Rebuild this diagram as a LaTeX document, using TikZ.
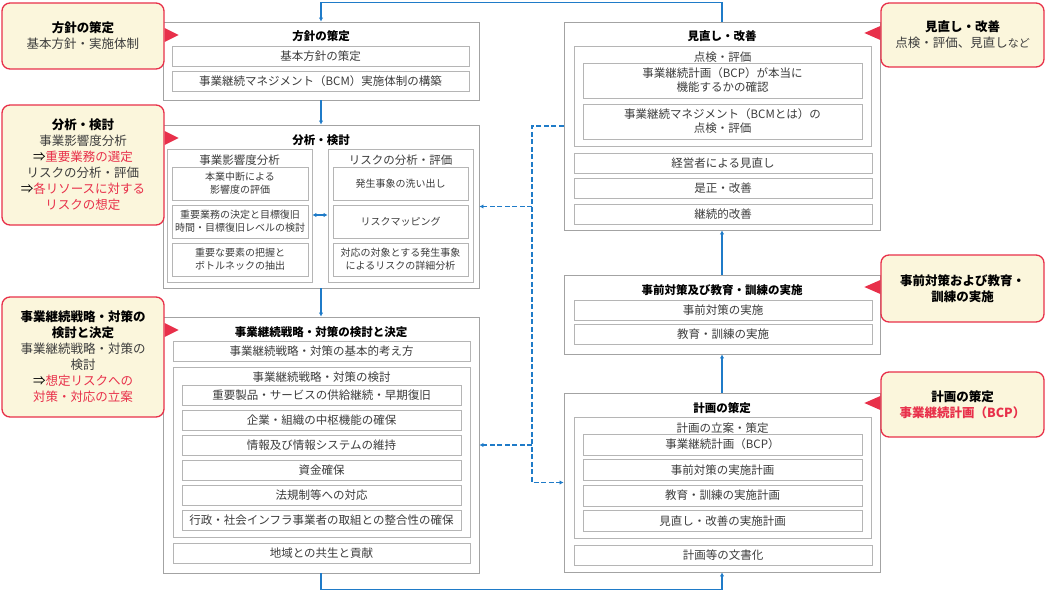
\documentclass[tikz,border=0pt]{standalone}
\usepackage{fontspec}
\setmainfont{Noto Sans CJK JP}
\usetikzlibrary{arrows.meta}
\definecolor{boxgray}{HTML}{A3A3A3}
\definecolor{subgray}{HTML}{B5B5B5}
\definecolor{txtgray}{HTML}{3C3C3C}
\definecolor{flowblue}{HTML}{1F7BC8}
\definecolor{callred}{HTML}{E8304A}
\definecolor{callfill}{HTML}{FBF6DC}

\begin{document}
\begin{tikzpicture}[x=1pt, y=-1pt,
    mainbox/.style={draw=boxgray, line width=0.9pt, fill=white, minimum width=316pt, inner sep=0pt},
    groupbox/.style={draw=subgray, line width=0.8pt, inner sep=0pt},
    subbox/.style={draw=subgray, line width=0.8pt, inner sep=0pt, align=center, text=txtgray, font=\fontsize{11.5}{14}\selectfont},
    smallbox/.style={subbox, font=\fontsize{10}{13}\selectfont},
    boxtitle/.style={inner sep=0pt, font=\fontsize{11.5}{14}\selectfont\bfseries},
    grouplabel/.style={inner sep=0pt, text=txtgray, font=\fontsize{11.5}{14}\selectfont},
    callout/.style={draw=callred, line width=1.3pt, fill=callfill, rounded corners=8pt, align=center, inner sep=0pt, text=txtgray, font=\fontsize{12.5}{16}\selectfont},
    pointer/.style={fill=callred},
    flow/.style={draw=flowblue, line width=1.3pt, -{Latex[length=4pt,width=4.5pt]}},
    dflow/.style={flow, line width=1.6pt, dash pattern=on 5pt off 2.5pt},
  ]
  \useasboundingbox (0,0) rectangle (1045,591);

  % Policy
  \node[mainbox, minimum height=78pt] (housin) at (321,61) {};
  \node[boxtitle] (housinT) at (321,36) {方針の策定};
  \node[subbox, minimum width=297pt, minimum height=20pt] (housin1) at (320.5,56) {基本方針の策定};
  \node[subbox, minimum width=297pt, minimum height=20pt] (housin2) at (320.5,81) {事業継続マネジメント（BCM）実施体制の構築};

  % Analysis
  \node[mainbox, minimum height=163pt] (bunseki) at (321,206.5) {};
  \node[boxtitle] (bunsekiT) at (321,140) {分析・検討};
  \node[groupbox, minimum width=145pt, minimum height=133pt] (bia) at (239.5,215.5) {};
  \node[grouplabel] (biaL) at (239.5,160) {事業影響度分析};
  \node[smallbox, minimum width=136pt, minimum height=33pt] (bia1) at (240,183.5) {本業中断による\\影響度の評価};
  \node[smallbox, minimum width=136pt, minimum height=33pt] (bia2) at (240,221.5) {重要業務の決定と目標復旧\\時間・目標復旧レベルの検討};
  \node[smallbox, minimum width=136pt, minimum height=33pt] (bia3) at (240,259.5) {重要な要素の把握と\\ボトルネックの抽出};
  \node[groupbox, minimum width=145pt, minimum height=133pt] (risk) at (400.5,215.5) {};
  \node[grouplabel] (riskL) at (400.5,160) {リスクの分析・評価};
  \node[smallbox, minimum width=135pt, minimum height=33pt] (risk1) at (400.5,183.5) {発生事象の洗い出し};
  \node[smallbox, minimum width=135pt, minimum height=33pt] (risk2) at (400.5,221.5) {リスクマッピング};
  \node[smallbox, minimum width=135pt, minimum height=33pt] (risk3) at (400.5,259.5) {対応の対象とする発生事象\\によるリスクの詳細分析};

  % Strategy
  \node[mainbox, minimum height=256pt] (senryaku) at (321,445) {};
  \node[boxtitle] (senryakuT) at (321,332) {事業継続戦略・対策の検討と決定};
  \node[subbox, minimum width=297pt, minimum height=20pt] (kihon) at (321.5,351) {事業継続戦略・対策の基本的考え方};
  \node[groupbox, minimum width=297pt, minimum height=170pt] (kento) at (321.5,452) {};
  \node[grouplabel] (kentoL) at (321.5,377) {事業継続戦略・対策の検討};
  \node[subbox, minimum width=279pt, minimum height=20pt] (kento1) at (321.5,395) {重要製品・サービスの供給継続・早期復旧};
  \node[subbox, minimum width=279pt, minimum height=20pt] (kento2) at (321.5,420) {企業・組織の中枢機能の確保};
  \node[subbox, minimum width=279pt, minimum height=20pt] (kento3) at (321.5,445) {情報及び情報システムの維持};
  \node[subbox, minimum width=279pt, minimum height=20pt] (kento4) at (321.5,470) {資金確保};
  \node[subbox, minimum width=279pt, minimum height=20pt] (kento5) at (321.5,495) {法規制等への対応};
  \node[subbox, minimum width=279pt, minimum height=20pt] (kento6) at (321.5,520) {行政・社会インフラ事業者の取組との整合性の確保};
  \node[subbox, minimum width=297pt, minimum height=20pt] (chiiki) at (321.5,553) {地域との共生と貢献};

  % Review
  \node[mainbox, minimum height=208pt] (minaoshi) at (722,126) {};
  \node[boxtitle] (minaoshiT) at (722,36) {見直し・改善};
  \node[groupbox, minimum width=297pt, minimum height=100pt] (tenken) at (722.5,96) {};
  \node[grouplabel] (tenkenL) at (722.5,57) {点検・評価};
  \node[subbox, minimum width=279pt, minimum height=35pt] (tenken1) at (722.5,80.5) {事業継続計画（BCP）が本当に\\機能するかの確認};
  \node[subbox, minimum width=279pt, minimum height=35pt] (tenken2) at (722.5,121.5) {事業継続マネジメント（BCMとは）の\\点検・評価};
  \node[subbox, minimum width=298pt, minimum height=20pt] (minaoshi1) at (723,163) {経営者による見直し};
  \node[subbox, minimum width=298pt, minimum height=20pt] (minaoshi2) at (723,188) {是正・改善};
  \node[subbox, minimum width=298pt, minimum height=20pt] (minaoshi3) at (723,214) {継続的改善};

  % Implementation
  \node[mainbox, minimum height=79pt] (jizen) at (722,314.5) {};
  \node[boxtitle] (jizenT) at (722,290) {事前対策及び教育・訓練の実施};
  \node[subbox, minimum width=298pt, minimum height=20pt] (jizen1) at (723,310) {事前対策の実施};
  \node[subbox, minimum width=298pt, minimum height=20pt] (jizen2) at (723,334.5) {教育・訓練の実施};

  % Plan
  \node[mainbox, minimum height=179pt] (keikaku) at (722,482.5) {};
  \node[boxtitle] (keikakuT) at (722,408) {計画の策定};
  \node[groupbox, minimum width=297pt, minimum height=121pt] (ritsuan) at (722.5,477.5) {};
  \node[grouplabel] (ritsuanL) at (722.5,428) {計画の立案・策定};
  \node[subbox, minimum width=279pt, minimum height=21pt] (ritsuan1) at (722.5,444.5) {事業継続計画（BCP）};
  \node[subbox, minimum width=279pt, minimum height=21pt] (ritsuan2) at (722.5,470) {事前対策の実施計画};
  \node[subbox, minimum width=279pt, minimum height=21pt] (ritsuan3) at (722.5,495.5) {教育・訓練の実施計画};
  \node[subbox, minimum width=279pt, minimum height=21pt] (ritsuan4) at (722.5,521) {見直し・改善の実施計画};
  \node[subbox, minimum width=298pt, minimum height=20pt] (bunsho) at (723,555) {計画等の文書化};

  % Cycle
  \draw[flow] (minaoshi.north) -- ++(0,-19) -| (housin.north);
  \draw[flow] (housin.south) -- (bunseki.north);
  \draw[flow] (bunseki.south) -- (senryaku.north);
  \draw[flow] (senryaku.south) -- ++(0,16) -| (keikaku.south);
  \draw[flow] (keikaku.north) -- (jizen.south);
  \draw[flow] (jizen.north) -- (minaoshi.south);
  \draw[flow, {Latex[length=4pt,width=4.5pt]}-{Latex[length=4pt,width=4.5pt]}] (bia.east |- 0,215) -- (risk.west |- 0,215);

  % Feedback
  \coordinate (fbtop) at (532,126);
  \coordinate (fbbot) at (532,482.5);
  \draw[dflow] (minaoshi.west) -- (fbtop) -- (fbbot) -- (keikaku.west);
  \draw[dflow] (fbtop |- bunseki.east) -- (bunseki.east);
  \draw[dflow] (fbtop |- senryaku.east) -- (senryaku.east);

  % Callouts
  \node[callout, minimum width=162pt, minimum height=66pt] (cHousin) at (83,36)
    {{\bfseries\color{black}方針の策定}\\基本方針・実施体制};
  \fill[pointer] (cHousin.east |- 0,35) ++(0,-7) -- ++(14,7) -- ++(-14,7) -- cycle;

  \node[callout, minimum width=162pt, minimum height=120pt] (cBunseki) at (83,165)
    {{\bfseries\color{black}分析・検討}\\事業影響度分析\\{\color{black}⇒}{\color{callred}重要業務の選定}\\リスクの分析・評価\\{\color{black}⇒}{\color{callred}各リソースに対する}\\{\color{callred}リスクの想定}};
  \fill[pointer] (cBunseki.east |- 0,138) ++(0,-7) -- ++(14,7) -- ++(-14,7) -- cycle;

  \node[callout, minimum width=162pt, minimum height=120pt] (cSenryaku) at (83,357)
    {{\bfseries\color{black}事業継続戦略・対策の}\\{\bfseries\color{black}検討と決定}\\事業継続戦略・対策の\\検討\\{\color{black}⇒}{\color{callred}想定リスクへの}\\{\color{callred}対策・対応の立案}};
  \fill[pointer] (cSenryaku.east |- 0,330) ++(0,-7) -- ++(14,7) -- ++(-14,7) -- cycle;

  \node[callout, minimum width=163pt, minimum height=64pt] (cMinaoshi) at (962.5,35)
    {{\bfseries\color{black}見直し・改善}\\点検・評価、見直し{\fontsize{11}{16}\selectfont など}};
  \fill[pointer] (cMinaoshi.west |- 0,33) ++(0,-7) -- ++(-16,7) -- ++(16,7) -- cycle;

  \node[callout, minimum width=163pt, minimum height=67pt] (cJizen) at (962.5,288.5)
    {\bfseries\color{black}事前対策および教育・\\\bfseries\color{black}訓練の実施};
  \fill[pointer] (cJizen.west |- 0,287) ++(0,-7) -- ++(-16,7) -- ++(16,7) -- cycle;

  \node[callout, minimum width=163pt, minimum height=65pt] (cKeikaku) at (962.5,404.5)
    {{\bfseries\color{black}計画の策定}\\{\bfseries\color{callred}事業継続計画（BCP）}};
  \fill[pointer] (cKeikaku.west |- 0,403) ++(0,-7) -- ++(-16,7) -- ++(16,7) -- cycle;
\end{tikzpicture}
\end{document}
